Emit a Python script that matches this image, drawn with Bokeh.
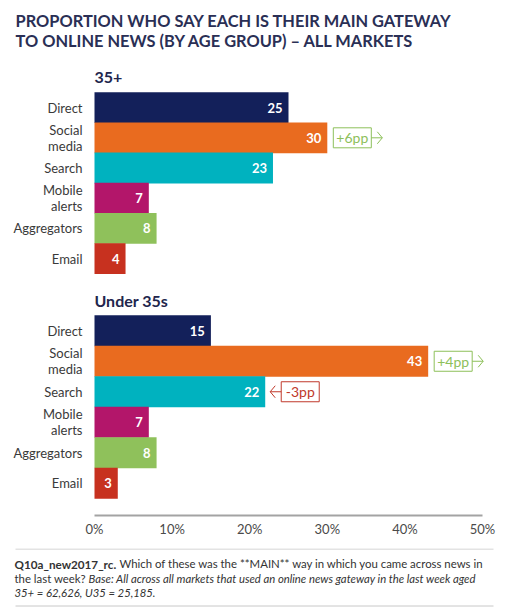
from bokeh.plotting import figure
from bokeh.layouts import column
from bokeh.models import Range1d, FixedTicker, Label, ColumnDataSource
from bokeh.core.properties import value
from bokeh.embed import file_html
from bokeh.resources import INLINE

# ---------------- data ----------------
categories = ["Direct", "Social\nmedia", "Search", "Mobile\nalerts", "Aggregators", "Email"]
groups = ["35+", "Under 35s"]
over35 = [25, 30, 23, 7, 8, 4]
under35 = [15, 43, 22, 7, 8, 3]
colors = ["#13205a", "#e96b1f", "#00b2bf", "#b3166a", "#8fc15b", "#c7311f"]
tick_values = [0, 10, 20, 30, 40, 50]
tick_labels = ["0%", "10%", "20%", "30%", "40%", "50%"]
change_groups = ["35+", "Under 35s", "Under 35s"]
change_cats = [1, 1, 2]
change_texts = ["+6pp", "+4pp", "-3pp"]

title_lines = ["PROPORTION WHO SAY EACH IS THEIR MAIN GATEWAY",
               "TO ONLINE NEWS (BY AGE GROUP) \u2013 ALL MARKETS"]

# ---------------- layout helpers (pixels) ----------------
W, H = 505, 615
TOP_H = 548
X0, PX = 94.0, 7.76          # pixel of 0 %, pixels per percent
FRAME_BOTTOM = 520
FONT = "Lato"


def dx(px):
    return (px - X0) / PX


group_tops = [92.0, 315.0]
row_h = [30.2, 30.5]
series = [over35, under35]

p = figure(width=W, height=TOP_H, output_backend="svg", toolbar_location=None,
           x_range=Range1d(dx(0), dx(W)), y_range=Range1d(FRAME_BOTTOM, 0),
           min_border_left=0, min_border_right=0, min_border_top=0,
           min_border_bottom=TOP_H - FRAME_BOTTOM, y_axis_location=None)
p.outline_line_color = None
p.grid.visible = False
p.background_fill_color = "white"
p.border_fill_color = "white"

ax = p.xaxis[0]
ax.ticker = FixedTicker(ticks=tick_values)
ax.major_label_overrides = {v: l for v, l in zip(tick_values, tick_labels)}
ax.axis_line_color = None
ax.major_tick_line_color = None
ax.minor_tick_line_color = None
ax.major_tick_out = 0
ax.major_tick_in = 0
ax.minor_tick_out = 0
ax.major_label_standoff = 0
ax.major_label_text_font = FONT
ax.major_label_text_font_size = "13px"
ax.major_label_text_color = "#4a4a4a"

# axis line
p.segment(x0=[tick_values[0]], x1=[tick_values[-1]], y0=[515], y1=[515],
          line_color="#a3a3a3", line_width=2)

row_y = []
for g, (top, h, vals) in enumerate(zip(group_tops, row_h, series)):
    ys = [top + h * (i + 0.5) for i in range(len(categories))]
    row_y.append(ys)
    src = ColumnDataSource(dict(y=ys, v=vals, c=colors,
                                t=[str(v) for v in vals], cat=categories))
    p.hbar(y="y", left=0, right="v", height=h + 0.6, fill_color="c",
           line_color=None, source=src)
    p.text(x="v", y="y", text="t", source=src, x_offset=-6,
           text_align="right", text_baseline="middle", text_color="white",
           text_font=value(FONT), text_font_style="bold", text_font_size="13px")
    p.text(x=dx(82), y="y", text="cat", source=src, text_align="right",
           text_baseline="middle", text_color="#3a3a3a",
           text_font=value(FONT), text_font_size="13px", text_line_height=1.0)
    p.add_layout(Label(x=0, y=top - 15, text=groups[g], text_baseline="middle",
                       text_font=FONT, text_font_style="bold",
                       text_font_size="16px", text_color="#22264d"))

# change annotations
for gname, ci, txt in zip(change_groups, change_cats, change_texts):
    g = groups.index(gname)
    v = series[g][ci]
    y = row_y[g][ci]
    bw, bh = 38 / PX, 20
    if txt.startswith("+"):
        col = "#8dc05a"
        bl = v + 6 / PX
        tip = bl + bw + 11 / PX
        base = bl + bw
        ch = -5 / PX
    else:
        col = "#c0392b"
        tip = v + 5 / PX
        bl = tip + 11 / PX
        base = bl
        ch = 5 / PX
    p.rect(x=bl + bw / 2, y=y, width=bw, height=bh, fill_color=None,
           line_color=col, line_width=1)
    p.multi_line(xs=[[base, tip], [tip + ch, tip, tip + ch]],
                 ys=[[y, y], [y - 6, y, y + 6]], line_color=col, line_width=1)
    p.text(x=[bl + bw / 2], y=[y], text=[txt], text_align="center",
           text_baseline="middle", text_color=col, text_font=value(FONT),
           text_font_size="14px")

# title
for i, line in enumerate(title_lines):
    p.add_layout(Label(x=dx(15), y=20 + 19.5 * i, text=line, text_baseline="middle",
                       text_font=FONT, text_font_style="bold",
                       text_font_size="16.4px", text_color="#2a2f55"))

# ---------------- footnote panel ----------------
FH = H - TOP_H
f = figure(width=W, height=FH, output_backend="svg", toolbar_location=None,
           x_range=Range1d(0, W), y_range=Range1d(FH, 0),
           min_border_left=0, min_border_right=0, min_border_top=0,
           min_border_bottom=0, x_axis_location=None, y_axis_location=None)
f.outline_line_color = None
f.grid.visible = False
f.background_fill_color = "white"
f.border_fill_color = "white"

f.segment(x0=[15, 15], x1=[493, 493], y0=[0.5, 57.5], y1=[0.5, 57.5],
          line_color="#c8c8c8", line_width=1)

FOOT = [
    (14, 15, "Q10a_new2017_rc.", "bold", "11.7px"),
    (119, 15, "Which of these was the **MAIN** way in which you came across news in", "normal", "11.4px"),
    (14, 29.5, "the last week?", "normal", "11.4px"),
    (88, 29.5, "Base: All across all markets that used an online news gateway in the last week aged", "italic", "11.3px"),
    (14, 43.5, "35+ = 62,626, U35 = 25,185.", "italic", "11.3px"),
]
for x, y, t, st, fs in FOOT:
    f.text(x=[x], y=[y], text=[t], text_baseline="middle",
           text_font=value(FONT), text_font_style=st,
           text_font_size=fs, text_color="#333333")

layout = column(p, f, spacing=0)
open("out.html", "w").write(file_html(layout, INLINE))
